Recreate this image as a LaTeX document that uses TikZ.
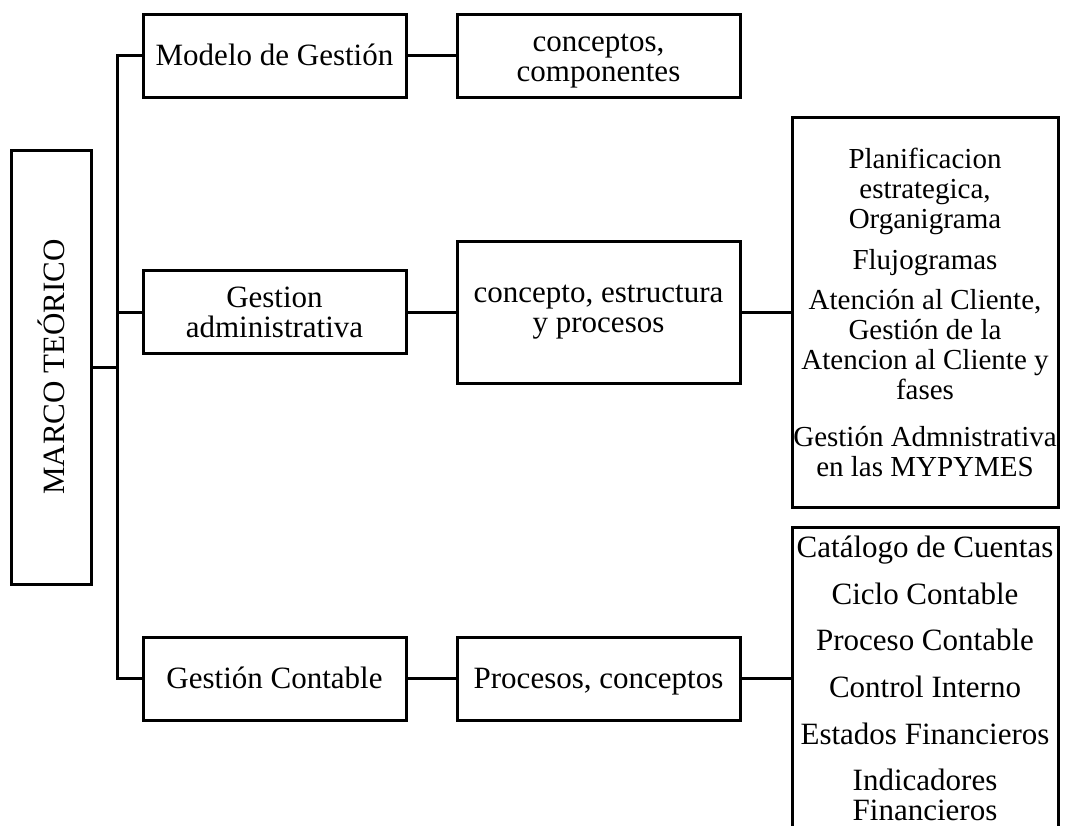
\documentclass[tikz,border=0pt]{standalone}
\usepackage{fontspec}
\setmainfont{Liberation Serif}
\tikzset{
  box/.style={draw, line width=1.5pt, align=center, inner sep=0pt,
    font=\fontsize{15.5pt}{15pt}\selectfont},
  oneline/.style={text height=11.5pt, text depth=2pt},
  lvlone/.style={box, minimum width=131.5pt, minimum height=41.5pt},
  lvltwo/.style={box, minimum width=141.5pt, minimum height=41.5pt},
  lvlthree/.style={box, minimum width=133pt},
}
\begin{document}
\begin{tikzpicture}[x=0.5pt, y=-0.5pt, line width=1.5pt]
      \useasboundingbox (0,0) rectangle (1074,825);
      \draw
        (51,367) node[box, minimum width=40pt, minimum height=217pt] (marco){\rotatebox{90}{MARCO TEÓRICO}}
        (274.5,55.5) node[lvlone, oneline] (modelo){Modelo de Gestión}
        (274.5,312) node[lvlone] (admin){Gestion\\administrativa}
        (274.5,678.5) node[lvlone, oneline] (contable){Gestión Contable}
        (598.5,55.5) node[lvltwo] (componentes){\rule{0pt}{14pt}conceptos,\\componentes}
        (598.5,312) node[lvltwo, minimum height=71pt] (estructura){concepto, estructura\\y procesos}
        (598.5,678.5) node[lvltwo, oneline] (procesos){Procesos, conceptos}
        (925,312) node[lvlthree, minimum height=195pt, font=\fontsize{14.5pt}{15pt}\selectfont] (planes){Planificacion\\estrategica,\\Organigrama\\[5.5pt]
          Flujogramas\\[5pt]
          Atención al Cliente,\\Gestión de la\\Atencion al Cliente y\\fases\\[8.5pt]
          Gestión Admnistrativa\\en las MYPYMES}
        (925,678.5) node[lvlthree, minimum height=151pt] (cuentas){Catálogo de Cuentas\\[8.3pt]
          Ciclo Contable\\[8.3pt]
          Proceso Contable\\[8.3pt]
          Control Interno\\[8.3pt]
          Estados Financieros\\[8.3pt]
          Indicadores\\Financieros};
      \coordinate (hub) at (117,367);
      \coordinate (hubadmin) at (117,312);
      \begin{scope}[-]
        \draw (marco) to (hub);
        \draw (modelo.west) -| (hub) |- (contable.west);
        \draw (admin) to (hubadmin);
        \draw (modelo) to (componentes);
        \draw (admin) to (estructura);
        \draw (contable) to (procesos);
        \draw (estructura) to (planes);
        \draw (procesos) to (cuentas);
      \end{scope}
    \end{tikzpicture}
\end{document}
